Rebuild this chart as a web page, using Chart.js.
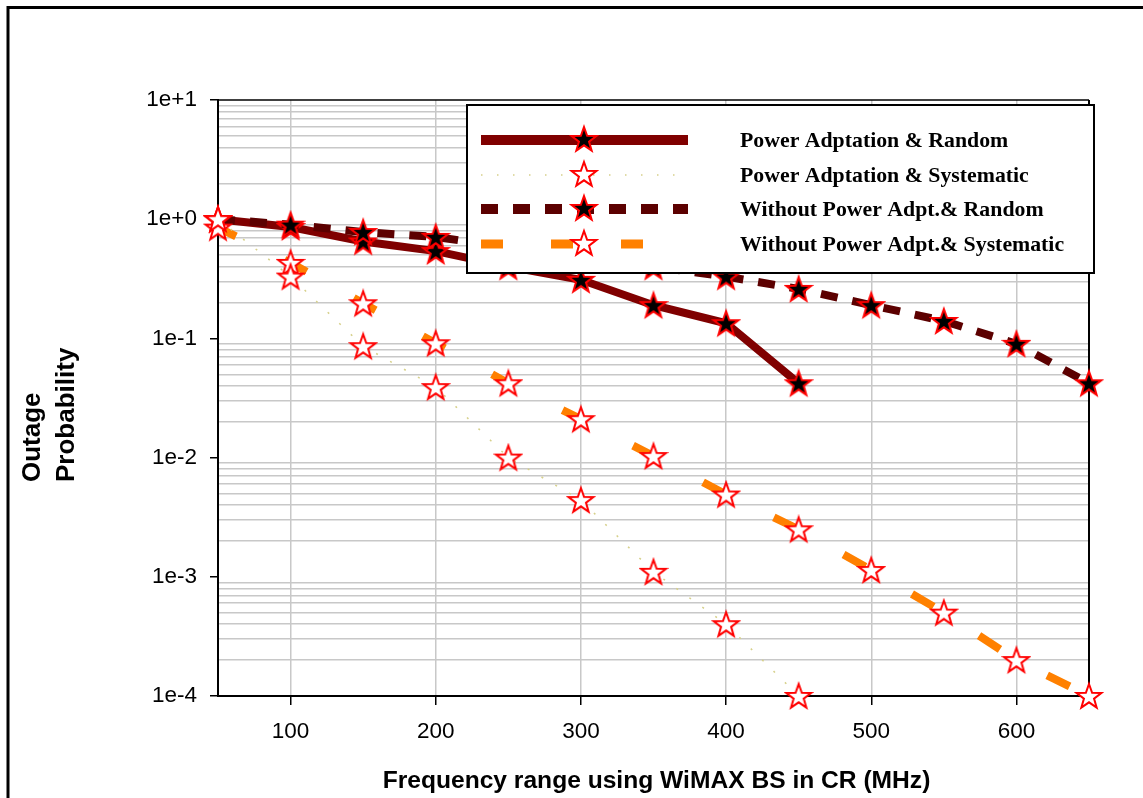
<!DOCTYPE html>
<html>
<head>
<meta charset="utf-8">
<script src="https://cdn.jsdelivr.net/npm/chart.js@4.4.1/dist/chart.umd.min.js"></script>
<style>
    html, body { margin: 0; padding: 0; background: #fff; }
    #wrap { width: 1143px; height: 798px; position: relative; }
</style>
</head>
<body>
<div id="wrap"><canvas id="chart"></canvas></div>
<script>
// frequency (MHz) and outage probability
const frequencies = [50, 100, 150, 200, 250, 300, 350, 400, 450, 500, 550, 600, 650];
const paRandom = [1.0, 0.86, 0.65, 0.54, 0.40, 0.31, 0.19, 0.134, 0.042];
const paSystematic = [1.0, 0.33, 0.086, 0.039, 0.01, 0.0044, 0.0011, 0.0004, 0.0001];
const woRandom = [1.0, 0.9, 0.78, 0.71, 0.58, 0.48, 0.40, 0.33, 0.26, 0.19, 0.14, 0.09, 0.042];
const woSystematic = [0.85, 0.43, 0.197, 0.091, 0.042, 0.021, 0.0103, 0.0049, 0.0025, 0.00114, 0.0005, 0.0002, 0.0001];

const seriesNames = [
    'Power Adptation & Random',
    'Power Adptation & Systematic',
    'Without Power Adpt.& Random',
    'Without Power Adpt.& Systematic'
];
const xTicks = [100, 200, 300, 400, 500, 600];
const yDecades = [1e-4, 1e-3, 1e-2, 1e-1, 1, 10];
const yDecadeLabels = ['1e-4', '1e-3', '1e-2', '1e-1', '1e+0', '1e+1'];
const xTitle = 'Frequency range using WiMAX BS in CR (MHz)';
const yTitle = ['Outage', 'Probability'];

function makeStar(fill) {
    const c = document.createElement('canvas');
    c.width = 30;
    c.height = 30;
    const g = c.getContext('2d');
    g.beginPath();
    for (let i = 0; i < 10; i++) {
        const r = i % 2 === 0 ? 13 : 5.3;
        const a = -Math.PI / 2 + i * Math.PI / 5;
        g.lineTo(15 + r * Math.cos(a), 16 + r * Math.sin(a));
    }
    g.closePath();
    g.fillStyle = fill;
    g.fill();
    g.lineWidth = 2;
    g.lineJoin = 'miter';
    g.strokeStyle = '#ff0000';
    g.stroke();
    return c;
}
const blackStar = makeStar('#000000');
const whiteStar = makeStar('#ffffff');

function toPoints(values) {
    return values.map((v, i) => ({ x: frequencies[i], y: v }));
}

function isDecade(v) {
    const l = Math.log10(v);
    return Math.abs(l - Math.round(l)) < 1e-9;
}

const styles = [
    { color: '#800000', width: 8, dash: [], offset: 0, star: blackStar, legendWidth: 10, legendDash: [] },
    { color: '#d6d08a', width: 1.5, dash: [2, 14], offset: 0, star: whiteStar, legendWidth: 1.5, legendDash: [1.5, 14.5] },
    { color: '#5c0000', width: 8, dash: [17, 15], offset: 0, star: blackStar, legendWidth: 10, legendDash: [17, 15] },
    { color: '#ff8000', width: 8, dash: [25, 54], offset: 5, star: whiteStar, legendWidth: 9, legendDash: [22, 48] }
];
const seriesData = [paRandom, paSystematic, woRandom, woSystematic];
const drawOrder = [3, 0, 2, 1];

const datasets = seriesData.map((vals, i) => ({
    label: seriesNames[i],
    data: toPoints(vals),
    borderColor: styles[i].color,
    backgroundColor: styles[i].color,
    borderWidth: styles[i].width,
    borderDash: styles[i].dash,
    borderDashOffset: styles[i].offset,
    pointStyle: styles[i].star,
    pointRadius: 13,
    pointHoverRadius: 13,
    tension: 0,
    fill: false,
    clip: false,
    order: drawOrder[i]
}));

const framePlugin = {
    id: 'frame',
    beforeDraw(chart) {
        const ctx = chart.ctx;
        ctx.save();
        ctx.strokeStyle = '#000';
        ctx.lineWidth = 3;
        ctx.beginPath();
        ctx.moveTo(8, 800);
        ctx.lineTo(8, 7.5);
        ctx.lineTo(1143, 7.5);
        ctx.stroke();
        ctx.restore();
    },
    beforeDatasetsDraw(chart) {
        const { ctx, chartArea: a } = chart;
        ctx.save();
        ctx.strokeStyle = '#000';
        ctx.lineWidth = 1.5;
        ctx.beginPath();
        ctx.moveTo(a.left, a.top);
        ctx.lineTo(a.right, a.top);
        ctx.stroke();
        ctx.lineWidth = 2;
        ctx.beginPath();
        ctx.moveTo(a.right, a.top);
        ctx.lineTo(a.right, a.bottom);
        ctx.stroke();
        ctx.restore();
    },
    afterDraw(chart) {
        const { ctx, chartArea: a } = chart;
        ctx.save();
        // axis titles
        ctx.fillStyle = '#000';
        ctx.font = 'bold 24.6px "Liberation Sans", Arial, sans-serif';
        ctx.textAlign = 'center';
        ctx.textBaseline = 'alphabetic';
        ctx.fillText(xTitle, (a.left + a.right) / 2 + 3, 788);
        ctx.font = 'bold 26px "Liberation Sans", Arial, sans-serif';
        ctx.textAlign = 'left';
        yTitle.forEach((t, i) => {
            ctx.save();
            ctx.translate(40 + i * 34, 482);
            ctx.rotate(-Math.PI / 2);
            ctx.fillText(t, 0, 0);
            ctx.restore();
        });

        // legend box
        const box = { left: 467, top: 105, right: 1094, bottom: 273 };
        const rows = [140, 175, 209, 244];
        ctx.fillStyle = '#fff';
        ctx.fillRect(box.left, box.top, box.right - box.left, box.bottom - box.top);
        ctx.strokeStyle = '#000';
        ctx.lineWidth = 2;
        ctx.strokeRect(box.left, box.top, box.right - box.left, box.bottom - box.top);
        ctx.font = 'bold 21.8px "Liberation Serif", "Times New Roman", serif';
        ctx.textBaseline = 'middle';
        ctx.textAlign = 'left';
        rows.forEach((y, i) => {
            const s = styles[i];
            ctx.strokeStyle = s.color;
            ctx.lineWidth = s.legendWidth;
            ctx.setLineDash(s.legendDash);
            ctx.lineCap = 'butt';
            ctx.beginPath();
            ctx.moveTo(481, y);
            ctx.lineTo(688, y);
            ctx.stroke();
            ctx.setLineDash([]);
            ctx.drawImage(s.star, 584 - 15, y - 16);
            ctx.fillStyle = '#000';
            ctx.fillText(seriesNames[i], 740, y + 1);
        });
        ctx.restore();
    }
};

new Chart(document.getElementById('chart'), {
    type: 'line',
    data: { datasets },
    options: {
        responsive: true,
        maintainAspectRatio: false,
        animation: false,
        layout: { padding: { top: 100, right: 54, left: 0, bottom: 0 } },
        plugins: {
            legend: { display: false },
            tooltip: { enabled: false }
        },
        scales: {
            x: {
                type: 'linear',
                min: 50,
                max: 650,
                afterBuildTicks: s => { s.ticks = xTicks.map(v => ({ value: v })); },
                afterFit: s => { s.height = 102; },
                grid: {
                    color: '#c8c8c8',
                    lineWidth: 1.5,
                    tickColor: '#000',
                    tickLength: 9,
                    tickWidth: 1.5
                },
                border: { display: true, color: '#000', width: 2 },
                ticks: {
                    color: '#000',
                    padding: 13,
                    maxRotation: 0,
                    autoSkip: false,
                    font: { family: '"Liberation Sans", Arial, sans-serif', size: 22.5 }
                }
            },
            y: {
                type: 'logarithmic',
                min: 1e-4,
                max: 10,
                afterBuildTicks: s => {
                    const t = [];
                    for (let e = -4; e <= 0; e++) {
                        for (let m = 1; m <= 9; m++) {
                            t.push({ value: m * Math.pow(10, e) });
                        }
                    }
                    t.push({ value: 10 });
                    s.ticks = t;
                },
                afterFit: s => { s.width = 218; },
                grid: {
                    color: c => (c.tick && isDecade(c.tick.value)) ? 'rgba(0,0,0,0)' : '#c8c8c8',
                    lineWidth: 1.5,
                    tickColor: c => (c.tick && isDecade(c.tick.value)) ? '#000' : 'rgba(0,0,0,0)',
                    tickLength: 8,
                    tickWidth: 1.5
                },
                border: { display: true, color: '#000', width: 2 },
                ticks: {
                    color: '#000',
                    padding: 13,
                    autoSkip: false,
                    font: { family: '"Liberation Sans", Arial, sans-serif', size: 22.5 },
                    callback: v => {
                        const i = yDecades.findIndex(d => Math.abs(Math.log10(d) - Math.log10(v)) < 1e-9);
                        return i >= 0 ? yDecadeLabels[i] : '';
                    }
                }
            }
        }
    },
    plugins: [framePlugin]
});
</script>
</body>
</html>
